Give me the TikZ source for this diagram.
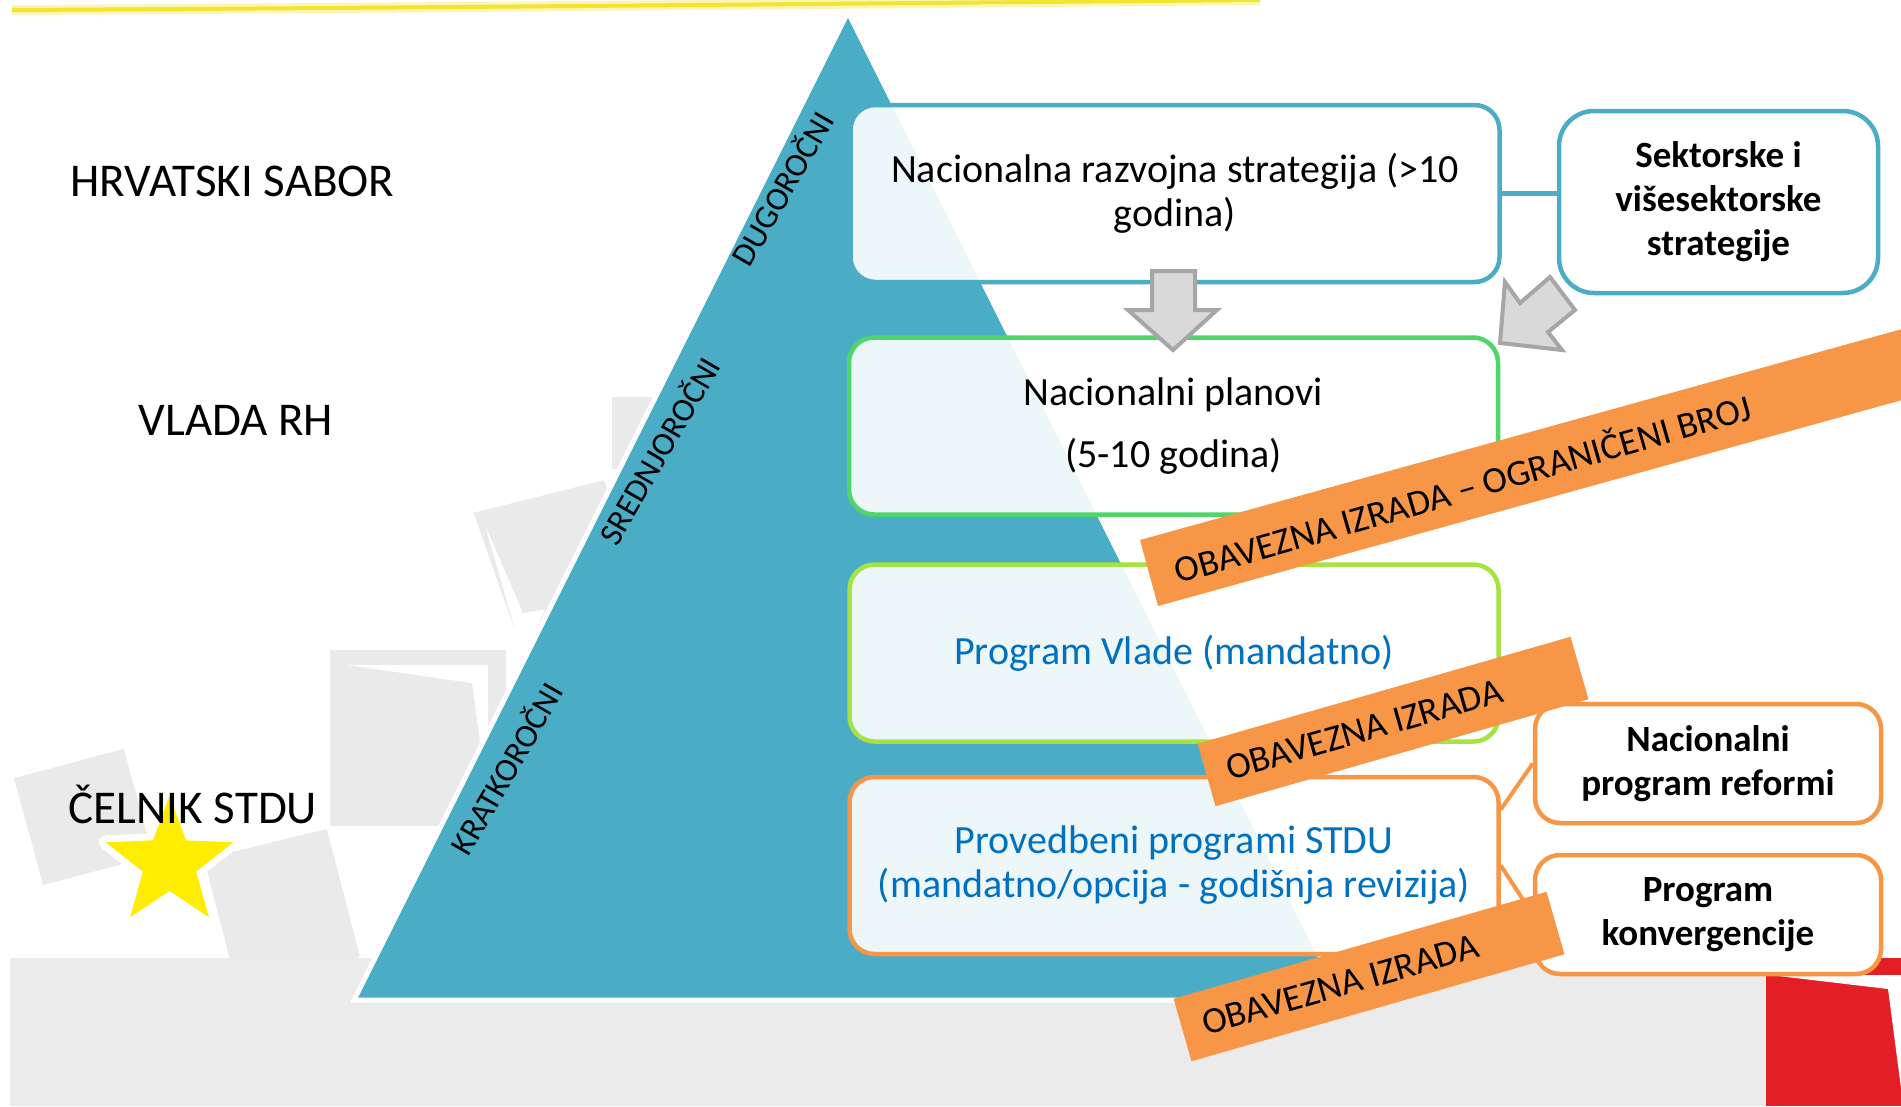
\documentclass[tikz,border=0pt]{standalone}
\usepackage{fontspec}
\setmainfont{Carlito}
\usetikzlibrary{calc}
\definecolor{teal5}{HTML}{4BACC6}
\definecolor{orng}{HTML}{F79646}
\definecolor{txtblue}{HTML}{0070C0}
\definecolor{grn}{HTML}{4ED66B}
\definecolor{lgrn}{HTML}{A5E244}
\definecolor{arrowfill}{HTML}{D9D9D9}
\definecolor{arrowline}{HTML}{A6A6A6}
\definecolor{bggray}{HTML}{EBEBEB}
\definecolor{sqgray}{HTML}{EAEAEA}
\definecolor{redc}{HTML}{E31E24}
\definecolor{staryel}{HTML}{FFED00}
\definecolor{lineyel}{HTML}{F2E530}
\begin{document}
\begin{tikzpicture}[x=1pt,y=-1pt,
  box/.style={rounded corners=25pt, line width=4.5pt, fill=white, fill opacity=0.9, text opacity=1, align=center, inner sep=0pt, minimum width=649pt, minimum height=177pt, font=\fontsize{40}{44}\selectfont},
  sidebox/.style={rounded corners=25pt, line width=4.5pt, draw=orng, fill=white, align=center, inner sep=0pt, minimum width=346pt, minimum height=119pt, font=\bfseries\fontsize{37}{44}\selectfont},
  lbl/.style={anchor=base, inner sep=0pt, font=\fontsize{47}{56}\selectfont},
  edgelbl/.style={rotate=60, inner sep=0pt, font=\fontsize{33}{33}\selectfont},
  banner/.style={fill=orng, rotate=16, minimum width=388pt, minimum height=65pt, inner sep=0pt, font=\fontsize{37}{37}\selectfont},
  sq/.style={fill=sqgray, draw=white, line width=3pt, line join=miter},
  blockarrow/.style={fill=arrowfill, draw=arrowline, line width=4pt, line join=miter},
]
\clip (0,0) rectangle (1901,1106);
\fill[white] (0,0) rectangle (1901,1106);

% bottom band and red corner
\fill[bggray] (10,958) rectangle (1901,1106);
\fill[redc] (1766,958) rectangle (1901,1106);
\fill[white] (1770,975) -- (1901,975) -- (1901,1088) -- (1888,989) -- cycle;

% decorative squares
\filldraw[sq] (12,777) -- (125,747) -- (155,857) -- (42,887) -- cycle;
\filldraw[sq] (202,858) -- (328,827) -- (362,958) -- (236,989) -- cycle;
\fill[bggray] (10,958) rectangle (400,1106);
\filldraw[sq] (328,648) rectangle (507,827);
\fill[white] (347,665) -- (488,665) -- (488,735) -- (480,742) -- (472,683) -- cycle;
\filldraw[sq] (610,395) rectangle (720,470);
\filldraw[sq] (471.7,511.7) -- (605,478.3) -- (646.3,596.6) -- (513,630) -- cycle;
\fill[white] (485,525) -- (523,613) -- (545,609.5) -- (538,624) -- (515,630) -- cycle;

% pyramid
\filldraw[fill=teal5, draw=white, line width=5pt, line join=miter] (848,12) -- (1342,1000) -- (354,1000) -- cycle;

% star
\draw[white, line width=14pt, line join=round] (169.5,796) -- (186,840.3) -- (233.2,842.3) -- (196.1,871.7) -- (208.9,917.2) -- (169.5,891) -- (130.1,917.2) -- (142.9,871.7) -- (105.8,842.3) -- (153,840.3) -- cycle;
\fill[staryel] (169.5,796) -- (186,840.3) -- (233.2,842.3) -- (196.1,871.7) -- (208.9,917.2) -- (169.5,891) -- (130.1,917.2) -- (142.9,871.7) -- (105.8,842.3) -- (153,840.3) -- cycle;

% top yellow line
\draw[lineyel!35, line width=10pt] (12,10) .. controls (400,8) and (800,4) .. (1260,0);
\draw[lineyel, line width=4pt] (12,10) .. controls (400,8) and (800,4) .. (1260,0);

% left labels
\node[lbl] (sabor) at (232.5,196) {HRVATSKI SABOR};
\node[lbl] (vlada) at (236,435) {VLADA RH};
\node[lbl] (celnik) at (193,823) {ČELNIK STDU};

% edge labels
\node[edgelbl] (dugo) at (781,188) {DUGOROČNI};
\node[edgelbl] (sred) at (658,450) {SREDNJOROČNI};
\node[edgelbl] (krat) at (505,768) {KRATKOROČNI};

% main boxes
\node[box, draw=teal5] (b1) at (1175,193.5) {Nacionalna razvojna strategija (>10\\godina)};
\node[box, draw=grn] (b2) at (1173.5,426) {Nacionalni planovi\\[18pt](5-10 godina)};
\node[box, draw=lgrn, text=txtblue] (b3) at (1174,653) {Program Vlade (mandatno)};
\node[box, draw=orng, text=txtblue] (b4) at (1174,865.5) {Provedbeni programi STDU\\(mandatno/opcija - godišnja revizija)};

% side boxes
\node[sidebox, draw=teal5, rounded corners=35pt, minimum width=319pt, minimum height=182pt] (b5) at (1718.5,202) {Sektorske i\\višesektorske\\strategije};
\node[sidebox] (b6) at (1708,763.5) {Nacionalni\\program reformi};
\node[sidebox] (b7) at (1708,914.5) {Program\\konvergencije};

% connectors
\draw[teal5, line width=5pt] (b1.east) -- (b1.east -| b5.west);
\draw[orng, line width=4pt] ($(b4.east)+(0,-56)$) -- (b6.west);
\draw[orng, line width=4pt] (b4.east) -- (b7.west);

% block arrows
\filldraw[blockarrow] (1152,271) -- (1195,271) -- (1195,310) -- (1217,310) -- (1173,350) -- (1128,310) -- (1152,310) -- cycle;
\filldraw[blockarrow] (1500,343) -- (1505,282) -- (1520,303) -- (1550,277) -- (1575,310) -- (1548,332) -- (1562,350) -- cycle;

% banners
\fill[orng] (1140,540) -- (2007,300) -- (2025,366) -- (1158,606) -- cycle;
\node[rotate=16, inner sep=0pt, font=\fontsize{37}{37}\selectfont] (ban1) at (1462,487) {OBAVEZNA IZRADA – OGRANIČENI BROJ};
\node[banner] (ban2) at (1393,721.5) {OBAVEZNA IZRADA\hspace*{60pt}};
\node[banner] (ban3) at (1369,976.5) {OBAVEZNA IZRADA\hspace*{60pt}};
\end{tikzpicture}
\end{document}
